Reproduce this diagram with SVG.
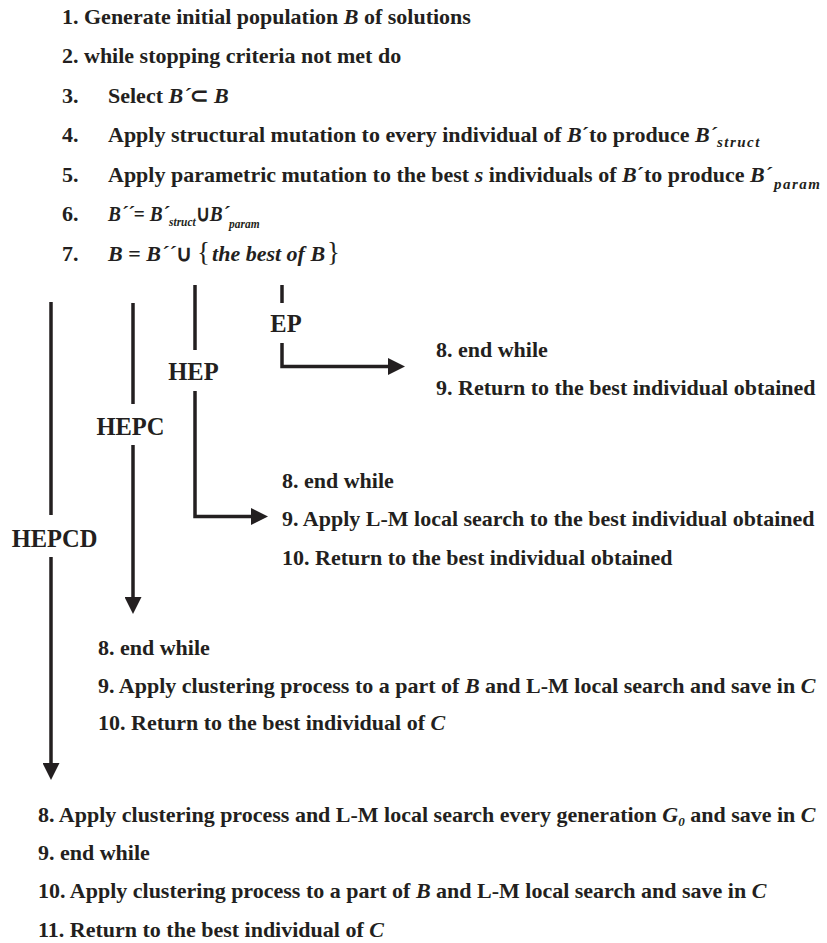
<svg xmlns="http://www.w3.org/2000/svg" width="827" height="943" viewBox="0 0 827 943">
<style>
.t{font-family:"Liberation Serif","Times New Roman",serif;font-size:22px;font-weight:bold;fill:#231f20}
.i{font-style:italic}
.s{font-size:15px;font-style:italic;letter-spacing:1.5px}
.s2{font-size:13px;font-style:italic}
.lb{font-family:"Liberation Serif","Times New Roman",serif;font-size:24.5px;font-weight:bold;fill:#231f20;text-anchor:middle}
.c{stroke:#231f20;stroke-width:3.5;fill:none}
</style>
<defs>
<marker id="ah" viewBox="0 0 10 10" refX="5.3" refY="5" markerWidth="17" markerHeight="17" markerUnits="userSpaceOnUse" orient="auto">
<path d="M0,0 L10,5 L0,10 z" fill="#231f20"/>
</marker>
</defs>
<rect width="827" height="943" fill="#fff"/>
<g id="main">
<text class="t" x="62" y="24">1. Generate initial population <tspan class="i">B</tspan> of solutions</text>
<text class="t" x="62" y="63">2. while stopping criteria not met do</text>
<text class="t" x="62" y="103">3.</text>
<text class="t" x="108" y="103">Select <tspan class="i">B´</tspan>⊂ <tspan class="i">B</tspan></text>
<text class="t" x="62" y="142">4.</text>
<text class="t" x="108" y="142">Apply structural mutation to every individual of <tspan class="i">B</tspan>´to produce <tspan class="i">B´</tspan><tspan class="s" dy="5">struct</tspan></text>
<text class="t" x="62" y="182">5.</text>
<text class="t" x="108" y="182">Apply parametric mutation to the best <tspan class="i">s</tspan> individuals of <tspan class="i">B</tspan>´to produce <tspan class="i">B´</tspan><tspan class="s" dx="2" dy="7">param</tspan></text>
<text class="t" x="62" y="221">6.</text>
<text class="t" x="108" y="221" transform="translate(108,0) scale(0.88,1) translate(-108,0)"><tspan class="i">B´´</tspan>= <tspan class="i">B´</tspan><tspan class="s2" dy="5">struct</tspan><tspan dy="-5">∪</tspan><tspan class="i">B´</tspan><tspan class="s2" dy="7">param</tspan></text>
<text class="t" x="62" y="261">7.</text>
<text class="t" x="108" y="261"><tspan class="i">B</tspan> = <tspan class="i">B´´</tspan>∪ <tspan font-size="27" font-weight="normal">{</tspan><tspan class="i" dx="2">the best of  B</tspan><tspan font-size="27" font-weight="normal" dx="2">}</tspan></text>
</g>
<g id="connectors">
<path class="c" d="M282,285 V303"/>
<path class="c" d="M282,343 V366.5 H397" marker-end="url(#ah)"/>
<path class="c" d="M195,285 V350"/>
<path class="c" d="M195,391 V516.5 H260" marker-end="url(#ah)"/>
<path class="c" d="M133,303 V404"/>
<path class="c" d="M133,445 V606" marker-end="url(#ah)"/>
<path class="c" d="M51,302 V515"/>
<path class="c" d="M51,557 V772" marker-end="url(#ah)"/>
</g>
<g id="label-ep"><text class="lb" x="286" y="332">EP</text></g>
<g id="label-hep"><text class="lb" x="193.5" y="380">HEP</text></g>
<g id="label-hepc"><text class="lb" x="130.5" y="435">HEPC</text></g>
<g id="label-hepcd"><text class="lb" x="54.5" y="547">HEPCD</text></g>
<g id="block-ep">
<text class="t" x="436" y="357">8. end while</text>
<text class="t" x="436" y="395">9. Return to the best individual obtained</text>
</g>
<g id="block-hep">
<text class="t" x="282" y="488">8. end while</text>
<text class="t" x="282" y="526">9. Apply L-M local search to the best individual obtained</text>
<text class="t" x="282" y="565">10. Return to the best individual obtained</text>
</g>
<g id="block-hepc">
<text class="t" x="98" y="655">8. end while</text>
<text class="t" x="98" y="693">9. Apply clustering process to a part of <tspan class="i">B</tspan> and L-M local search and save in <tspan class="i">C</tspan></text>
<text class="t" x="98" y="730">10. Return to the best individual of <tspan class="i">C</tspan></text>
</g>
<g id="block-hepcd">
<text class="t" x="38" y="822">8. Apply clustering process and L-M local search every generation <tspan class="i">G</tspan><tspan class="s2" dy="4">0</tspan><tspan dy="-4"> and save in </tspan><tspan class="i">C</tspan></text>
<text class="t" x="38" y="860">9. end while</text>
<text class="t" x="38" y="898">10. Apply clustering process to a part of <tspan class="i">B</tspan> and L-M local search and save in <tspan class="i">C</tspan></text>
<text class="t" x="38" y="937">11. Return to the best individual of <tspan class="i">C</tspan></text>
</g>
</svg>
